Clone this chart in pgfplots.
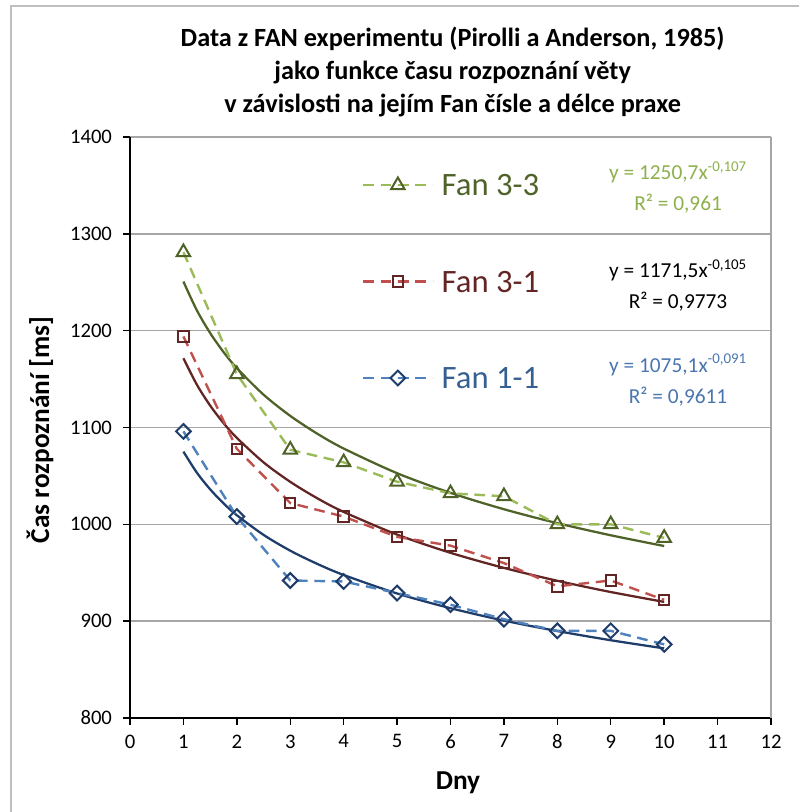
\documentclass[border=0pt]{standalone}
\usepackage{pgfplots}
\pgfplotsset{compat=1.18}
\usepackage{fontspec}
\setmainfont{Carlito}

\definecolor{frame}{HTML}{BFBFBF}
\definecolor{gridgray}{HTML}{A6A6A6}
\definecolor{gmark}{HTML}{4F6228}
\definecolor{gline}{HTML}{9BBB59}
\definecolor{geq}{HTML}{8DB04C}
\definecolor{rmark}{HTML}{632523}
\definecolor{rline}{HTML}{C0504D}
\definecolor{bmark}{HTML}{1F3D6B}
\definecolor{bline}{HTML}{4F81BD}
\definecolor{btext}{HTML}{376092}
\definecolor{beq}{HTML}{4A76B0}

\newcommand\tickfont{\fontsize{15.5}{18}\selectfont}
\newcommand\eqfont{\fontsize{16}{23.5}\selectfont}
\newcommand\legfont{\fontsize{24.5}{28}\selectfont}
\newcommand\titlefont{\fontsize{19.7}{24.75}\selectfont\bfseries}
\newcommand\labfont{\fontsize{20.5}{24}\selectfont\bfseries}

\begin{document}
\begin{tikzpicture}
\path[use as bounding box] (-97.5pt,-70.5pt) rectangle (501pt,538.5pt);
\draw[frame, line width=1.5pt] (-89.25pt,-71pt) -- (-89.25pt,534pt) -- (502pt,534pt);

\begin{axis}[
  scale only axis, width=480.75pt, height=435.75pt,
  xmin=0, xmax=12, ymin=800, ymax=1400,
  xtick={0,1,...,12}, ytick={800,900,...,1400},
  axis x line*=bottom, axis y line*=left,
  axis line style={-, line width=1.5pt, black},
  tick align=outside, major tick length=5pt,
  tick style={black, line width=1.1pt},
  ymajorgrids, major grid style={line width=1.1pt, gridgray},
  /pgf/number format/assume math mode=true,
  /pgf/number format/1000 sep={},
  scaled ticks=false,
  xticklabel={\hbox{\tickfont\pgfmathprintnumber{\tick}}},
  yticklabel={\hbox{\tickfont\pgfmathprintnumber{\tick}}},
  xticklabel style={yshift=-4pt},
  yticklabel style={xshift=-5pt},
  clip=false,
  legend cell align=left,
  legend style={draw=none, fill=none, inner sep=0pt, outer sep=0pt,
    at={(axis cs:4.343,1363.5)}, anchor=north west,
    row sep=53pt, font=\legfont,
    nodes={inner sep=0pt, text height=17.5pt, text depth=1.8pt},
    /tikz/every odd column/.append style={column sep=6pt}},
  legend image code/.code={
    \draw[mark repeat=2, mark phase=2] plot coordinates {(0pt,0pt) (26pt,0pt) (52pt,0pt)};
  },
]
% power trend lines
\addplot[gmark, line width=1.7pt, smooth, forget plot] coordinates {
  (1,1250.7) (1.25,1221.2) (1.5,1197.6) (1.75,1178.0) (2,1161.3) (2.5,1133.9)
  (3,1112.0) (3.5,1093.8) (4,1078.3) (5,1052.8) (6,1032.5) (7,1015.6)
  (8,1001.2) (9,988.7) (10,977.6)};
\addplot[rmark, line width=1.7pt, smooth, forget plot] coordinates {
  (1,1171.5) (1.25,1144.4) (1.5,1122.7) (1.75,1104.6) (2,1089.3) (2.5,1064.0)
  (3,1043.9) (3.5,1027.1) (4,1012.8) (5,989.4) (6,970.6) (7,955.0)
  (8,941.7) (9,930.1) (10,919.9)};
\addplot[bmark, line width=1.7pt, smooth, forget plot] coordinates {
  (1,1075.1) (1.25,1053.5) (1.5,1036.2) (1.75,1021.7) (2,1009.4) (2.5,989.1)
  (3,972.8) (3.5,959.3) (4,947.7) (5,928.6) (6,913.4) (7,900.6)
  (8,889.8) (9,880.3) (10,871.9)};

% data
\addplot[gline, line width=1.8pt, dash pattern=on 8pt off 5pt,
  mark=triangle, mark size=5.8pt,
  mark options={solid, draw=gmark, fill=white, line width=1.5pt}] coordinates {
  (1,1281) (2,1155) (3,1077) (4,1064) (5,1044) (6,1032) (7,1029) (8,1000) (9,1000) (10,986)};
\addlegendentry{\textcolor{gmark}{Fan 3-3}}
\addplot[rline, line width=1.8pt, dash pattern=on 8pt off 5pt,
  mark=square, mark size=3.9pt,
  mark options={solid, draw=rmark, fill=white, line width=1.5pt}] coordinates {
  (1,1194) (2,1078) (3,1022) (4,1008) (5,987) (6,978) (7,960) (8,936) (9,942) (10,922)};
\addlegendentry{\textcolor{rmark}{Fan 3-1}}
\addplot[bline, line width=1.8pt, dash pattern=on 8pt off 5pt,
  mark=square, mark size=3.9pt,
  mark options={solid, rotate=45, draw=bmark, fill=white, line width=1.5pt}] coordinates {
  (1,1096) (2,1008) (3,942) (4,941) (5,929) (6,917) (7,902) (8,890) (9,890) (10,876)};
\addlegendentry{\textcolor{btext}{Fan 1-1}}

\draw[gridgray, line width=1.1pt] (rel axis cs:1,0) -- (rel axis cs:1,1);

\node[align=center, font=\eqfont, text=geq] at (axis cs:10.26,1347.9)
  {y = 1250,7x\textsuperscript{-0,107}\\R² = 0,961};
\node[align=center, font=\eqfont, text=black] at (axis cs:10.26,1246.6)
  {y = 1171,5x\textsuperscript{-0,105}\\R² = 0,9773};
\node[align=center, font=\eqfont, text=beq] at (axis cs:10.26,1149)
  {y = 1075,1x\textsuperscript{-0,091}\\R² = 0,9611};
\end{axis}

\node[align=center, font=\titlefont] at (242pt,484.5pt)
  {Data z FAN experimentu (Pirolli a Anderson, 1985)\\jako funkce času rozpoznání věty\\v závislosti na jejím Fan čísle a délce praxe};
\node[rotate=90, font=\labfont] at (-67.5pt,216pt) {Čas rozpoznání [ms]};
\node[font=\labfont] at (246pt,-48.5pt) {Dny};
\end{tikzpicture}
\end{document}
